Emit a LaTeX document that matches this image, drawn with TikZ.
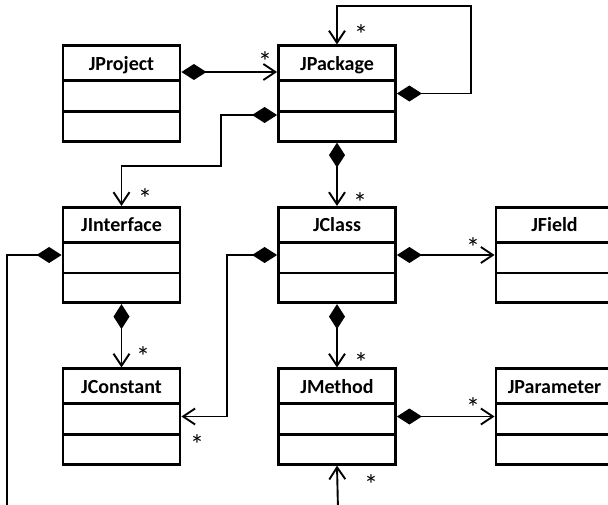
\documentclass[tikz,border=0pt]{standalone}
\usepackage{fontspec}
\setmainfont{Carlito}
\usepackage{tikz}
\usetikzlibrary{arrows.meta}
\usetikzlibrary{shapes.multipart}

\tikzset{
  classbox/.style={rectangle split, rectangle split parts=3, draw, line width=2.8pt,
    text width=117pt, align=center, inner sep=0pt, font=\fontsize{20}{22}\selectfont\bfseries},
  comp/.style={line width=1.9pt, {Diamond[length=25pt,width=16pt]}-{Straight Barb[length=12pt,width=16pt]}},
  mult/.style={font=\fontsize{28}{30}\selectfont, inner sep=0pt, text height=5pt, text depth=5pt}
}
\newcommand{\many}{\smash{\raisebox{-14pt}{*}}}

\begin{document}
\begin{tikzpicture}[x=1pt, y=-1pt]
\newcommand{\jclass}[2]{node (#1) [classbox] {\rule[-9pt]{0pt}{32pt}#2\nodepart{two}\rule{0pt}{28pt}\nodepart{three}\rule{0pt}{27pt}}}
\useasboundingbox (0,0) rectangle (608,504);
\clip (0,0) rectangle (608,504);
% classes
\path (121.5,93.5) \jclass{jproject}{JProject} (337,93.5) \jclass{jpackage}{JPackage};
\path (121.5,255) \jclass{jinterface}{JInterface} (337,255) \jclass{jclass}{JClass} (554.5,255) \jclass{jfield}{JField};
\path (121.5,416.5) \jclass{jconstant}{JConstant} (337,416.5) \jclass{jmethod}{JMethod} (554.5,416.5) \jclass{jparameter}{JParameter};
\coordinate (cutleft) at (7,510);
\coordinate (cutbottom) at (338,510);
% compositions
\draw[comp] ([yshift=21.5pt]jproject.east) -- ([yshift=21.5pt]jpackage.west);
\draw[comp] (jpackage.east) -| (471,6) -| (jpackage.north);
\draw[comp] ([yshift=-21.5pt]jpackage.west) -| (221,166) -| (jinterface.north);
\draw[comp] (jpackage.south) -- (jclass.north);
\draw[comp] (jclass.east) -- (jfield.west);
\draw[comp] (jclass.west) -- (227,255) |- (jconstant.east);
\draw[comp] (jinterface.south) -- (jconstant.north);
\draw[comp] (jclass.south) -- (jmethod.north);
\draw[comp] (jmethod.east) -- (jparameter.west);
\draw[line width=1.9pt, {Diamond[length=25pt,width=16pt]}-] (jinterface.west) -| (cutleft);
\draw[line width=1.9pt, -{Straight Barb[length=12pt,width=16pt]}] (cutbottom) -- (jmethod.south);
% multiplicities
\node (m1) [mult] at (265,57) {\many};
\node (m2) [mult] at (361,30) {\many};
\node (m3) [mult] at (145,194) {\many};
\node (m4) [mult] at (360,198) {\many};
\node (m5) [mult] at (473,243) {\many};
\node (m6) [mult] at (143,352) {\many};
\node (m7) [mult] at (361,358) {\many};
\node (m8) [mult] at (197,440) {\many};
\node (m9) [mult] at (473,403) {\many};
\node (m10) [mult] at (371,480) {\many};
\end{tikzpicture}
\end{document}
